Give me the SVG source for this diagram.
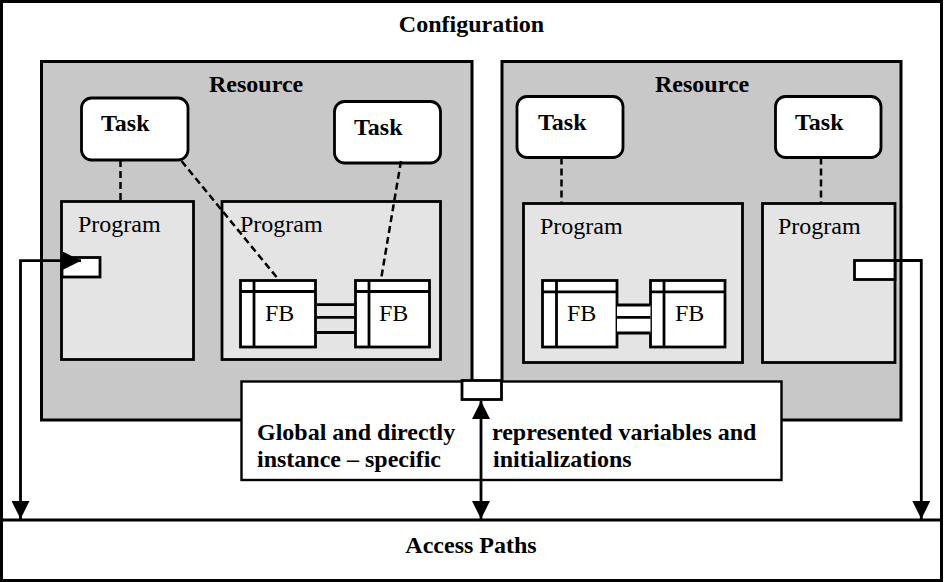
<svg xmlns="http://www.w3.org/2000/svg" width="944" height="582" viewBox="0 0 944 582">
<style>
.frame{fill:#fff;stroke:#000;stroke-width:3}
.res{fill:#c8c8c8;stroke:#000;stroke-width:3}
.prog{fill:#e4e4e4;stroke:#000;stroke-width:2.8}
.task{fill:#fff;stroke:#000;stroke-width:2.8}
.fb{fill:#fff;stroke:#000;stroke-width:2.8}
.ln{fill:none;stroke:#000;stroke-width:2.8}
.dash{fill:none;stroke:#000;stroke-width:2.5;stroke-dasharray:7 4}
.arr{fill:none;stroke:#000;stroke-width:2.8}
.b{font-family:"Liberation Serif","Times New Roman",serif;font-weight:bold;font-size:24px;fill:#000}
.r{font-family:"Liberation Serif","Times New Roman",serif;font-size:24px;fill:#000}
</style>
<defs>
<marker id="ah" viewBox="0 0 18 18" refX="18" refY="9" markerWidth="18" markerHeight="18" markerUnits="userSpaceOnUse" orient="auto-start-reverse">
<path d="M0,0 L18,9 L0,18 z" fill="#000"/>
</marker>
</defs>
<rect width="944" height="582" fill="#fff"/>
<g id="configuration">
<rect class="frame" x="1.5" y="1.5" width="940" height="579"/>
<text class="b" x="471.5" y="32" text-anchor="middle">Configuration</text>
</g>
<g id="access-paths">
<line class="ln" x1="1.5" y1="520" x2="941.5" y2="520" stroke-width="3"/>
<text class="b" x="471" y="553" text-anchor="middle">Access Paths</text>
</g>
<g id="resource-left">
<rect class="res" x="41.5" y="61.5" width="430.5" height="358.5"/>
<text class="b" x="209" y="92">Resource</text>
</g>
<g id="resource-right">
<rect class="res" x="502" y="61.5" width="399" height="358.5"/>
<text class="b" x="655" y="92">Resource</text>
</g>
<g id="program-l1">
<rect class="prog" x="61.5" y="201.5" width="132" height="158"/>
<text class="r" x="78" y="232">Program</text>
</g>
<g id="program-l2">
<rect class="prog" x="222" y="201.5" width="218.5" height="158"/>
<text class="r" x="240" y="232">Program</text>
</g>
<g id="program-r1">
<rect class="prog" x="523.5" y="203.5" width="219" height="159"/>
<text class="r" x="540" y="234">Program</text>
</g>
<g id="program-r2">
<rect class="prog" x="762.5" y="203.5" width="132.5" height="159"/>
<text class="r" x="778" y="234">Program</text>
</g>
<g id="task-l1">
<rect class="task" x="81.5" y="98" width="106.5" height="62" rx="10"/>
<text class="b" x="101" y="131">Task</text>
</g>
<g id="task-l2">
<rect class="task" x="334.5" y="101.5" width="106" height="61.5" rx="10"/>
<text class="b" x="354" y="135">Task</text>
</g>
<g id="task-r1">
<rect class="task" x="517" y="96.5" width="106" height="61" rx="10"/>
<text class="b" x="538" y="130">Task</text>
</g>
<g id="task-r2">
<rect class="task" x="775.5" y="96.5" width="105.5" height="61" rx="10"/>
<text class="b" x="795" y="130">Task</text>
</g>
<g id="fb-l1">
<rect class="fb" x="240.5" y="280.5" width="75" height="66.5"/>
<line class="ln" x1="240.5" y1="291.5" x2="315.5" y2="291.5"/>
<line class="ln" x1="254" y1="280.5" x2="254" y2="347"/>
<text class="r" x="265" y="321">FB</text>
</g>
<g id="fb-l2">
<rect class="fb" x="355.5" y="280.5" width="74" height="66.5"/>
<line class="ln" x1="355.5" y1="291.5" x2="429.5" y2="291.5"/>
<line class="ln" x1="369" y1="280.5" x2="369" y2="347"/>
<text class="r" x="379" y="321">FB</text>
</g>
<g id="fb-r1">
<rect class="fb" x="542.5" y="280.5" width="74.5" height="66.5"/>
<line class="ln" x1="542.5" y1="291.8" x2="617" y2="291.8"/>
<line class="ln" x1="556.5" y1="280.5" x2="556.5" y2="347"/>
<text class="r" x="567" y="321">FB</text>
</g>
<g id="fb-r2">
<rect class="fb" x="650.5" y="280.5" width="74.5" height="66.5"/>
<line class="ln" x1="650.5" y1="291.8" x2="725" y2="291.8"/>
<line class="ln" x1="664" y1="280.5" x2="664" y2="347"/>
<text class="r" x="675" y="321">FB</text>
</g>
<g id="global">
<rect x="241.5" y="381.5" width="540" height="98.5" fill="#fff" stroke="#000" stroke-width="2.4"/>
<text class="b" x="257" y="440">Global and directly</text>
<text class="b" x="257" y="467">instance – specific</text>
<text class="b" x="492" y="440">represented variables and</text>
<text class="b" x="493" y="467">initializations</text>
</g>
<g id="ports">
<rect x="462" y="380.5" width="39.5" height="19" fill="#fff" stroke="#000" stroke-width="2.8"/>
<rect x="62" y="257.5" width="38" height="19.5" fill="#fff" stroke="#000" stroke-width="2.8"/>
<rect x="854.5" y="260.5" width="40.5" height="19" fill="#fff" stroke="#000" stroke-width="2.8"/>
</g>
<g id="connectors">
<line class="dash" x1="120.5" y1="160" x2="120.5" y2="201"/>
<line class="dash" x1="181.5" y1="161" x2="278.5" y2="279.5"/>
<line class="dash" x1="401" y1="161" x2="381" y2="279.5"/>
<line class="dash" x1="561.5" y1="157.5" x2="561.5" y2="203"/>
<line class="dash" x1="821" y1="157.5" x2="821" y2="203"/>
<line class="ln" x1="317" y1="304.7" x2="355.5" y2="304.7"/>
<line class="ln" x1="317" y1="317.3" x2="355.5" y2="317.3"/>
<line class="ln" x1="317" y1="332.5" x2="355.5" y2="332.5"/>
<rect x="617" y="305" width="33.5" height="28" fill="#fff"/>
<line class="ln" x1="617" y1="305" x2="650.5" y2="305"/>
<line class="ln" x1="617" y1="317.3" x2="650.5" y2="317.3"/>
<line class="ln" x1="617" y1="333" x2="650.5" y2="333"/>
<path class="arr" d="M81,260.7 L20.5,260.7 L20.5,519" marker-start="url(#ah)" marker-end="url(#ah)"/>
<path class="arr" d="M895,260.5 L921.3,260.5 L921.3,519" marker-end="url(#ah)"/>
<path class="arr" d="M481,401 L481,519" marker-start="url(#ah)" marker-end="url(#ah)"/>
</g>
</svg>
